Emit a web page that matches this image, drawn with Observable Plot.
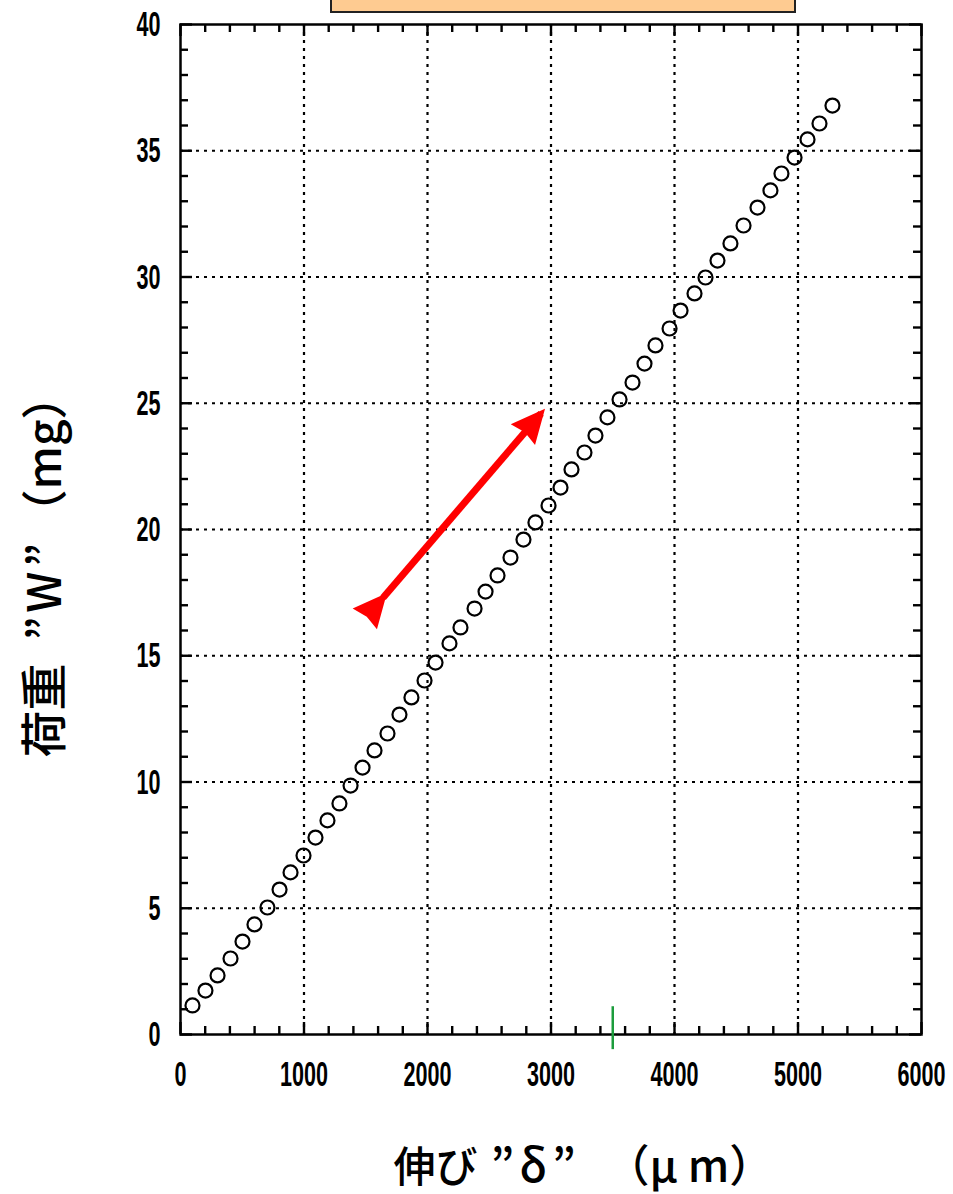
<!DOCTYPE html>
<html><head><meta charset="utf-8">
<script src="https://cdn.jsdelivr.net/npm/d3@7"></script>
<script src="https://cdn.jsdelivr.net/npm/@observablehq/plot@0.6"></script>
<style>
html,body{margin:0;padding:0;background:#fff;overflow:hidden}
#wrap{position:relative;width:953px;height:1194px}
#wrap svg{display:block}
#note{position:absolute;left:330px;top:-30px;width:462px;height:39px;background:#FECB91;border:2px solid #222;}
</style></head><body><div id="wrap"><div id="note"></div></div>
<script>
// elongation δ (μm)
const elongation = [97,202,300,405,502,599,704,802,891,996,1093,1190,1287,1377,1474,1571,1676,1773,1870,1976,
  2065,2178,2267,2381,2470,2567,2672,2777,2874,2980,3077,3166,3271,3360,3457,3555,3660,3757,3846,3960,
  4049,4162,4251,4348,4453,4559,4672,4777,4866,4972,5077,5174,5279];
// load W (mg)
const load = [1.15,1.74,2.34,3.01,3.68,4.36,5.03,5.74,6.42,7.09,7.80,8.48,9.15,9.86,10.57,11.25,11.92,12.67,13.35,14.02,
  14.73,15.49,16.12,16.87,17.54,18.18,18.89,19.60,20.28,20.95,21.66,22.38,23.05,23.72,24.44,25.15,25.82,26.57,27.29,27.96,
  28.67,29.35,29.98,30.65,31.33,32.04,32.75,33.43,34.10,34.73,35.45,36.08,36.79];
const xMajorTicks = [0,1000,2000,3000,4000,5000,6000];
const yMajorTicks = [0,5,10,15,20,25,30,35,40];
const xMinorTicks = [200,400,600,800,1200,1400,1600,1800,2200,2400,2600,2800,3200,3400,3600,3800,4200,4400,4600,4800,5200,5400,5600,5800];
const yMinorTicks = [1,2,3,4,6,7,8,9,11,12,13,14,16,17,18,19,21,22,23,24,26,27,28,29,31,32,33,34,36,37,38,39];
const arrowSegment = [{x1:1640, y1:17.3, x2:2920, y2:24.6}];
const penMark = [{x:3500, y1:1.1, y2:-0.6}];
const xTitleParts = ["伸び", "”δ”", "（μ m）"];
const yTitleParts = ["荷重", "”W”", "（mg）"];

const W = 953, H = 1194, mL = 180, mR = 32, mT = 24, mB = 160;
const innerW = W - mL - mR, innerH = H - mT - mB;
const xDomain = [0, 6000], yDomain = [0, 40];
const yPerPx = (yDomain[1] - yDomain[0]) / innerH, xPerPx = (xDomain[1] - xDomain[0]) / innerW;
const minorLen = 8, majorLen = 12;

const points = elongation.map((x, i) => ({x, y: load[i]}));
const tickFont = "'Liberation Sans', Arial, sans-serif";
const cjkFont = "'Noto Sans CJK JP', 'Noto Sans CJK SC', sans-serif";
const gridStyle = {stroke:"#000", strokeOpacity:1, strokeWidth:2.2, strokeDasharray:"3,5"};
const tk = {stroke:"#000", strokeWidth:2.4};

function inwardTicks(xs, ys, len) {
  return [
    Plot.ruleX(xs, {x: d => d, y1: yDomain[0], y2: yDomain[0] + len * yPerPx, ...tk}),
    Plot.ruleX(xs, {x: d => d, y1: yDomain[1], y2: yDomain[1] - len * yPerPx, ...tk}),
    Plot.ruleY(ys, {y: d => d, x1: xDomain[0], x2: xDomain[0] + len * xPerPx, ...tk}),
    Plot.ruleY(ys, {y: d => d, x1: xDomain[1], x2: xDomain[1] - len * xPerPx, ...tk})
  ];
}

const plot = Plot.plot({
  width: W, height: H,
  marginLeft: mL, marginRight: mR, marginTop: mT, marginBottom: mB,
  x: {domain: xDomain},
  y: {domain: yDomain},
  style: {background:"transparent", overflow:"visible", color:"#000"},
  marks: [
    Plot.gridX({ticks: xMajorTicks.slice(1,-1), ...gridStyle}),
    Plot.gridY({ticks: yMajorTicks.slice(1,-1), ...gridStyle}),
    ...inwardTicks(xMinorTicks, yMinorTicks, minorLen),
    ...inwardTicks(xMajorTicks, yMajorTicks, majorLen),
    Plot.axisX({ticks: xMajorTicks, anchor:"bottom", tickSize:0, tickPadding:26, label:null, tickFormat:"d",
      fontFamily: tickFont, fontSize:36, fontWeight:"bold", fill:"#000"}),
    Plot.axisY({ticks: yMajorTicks, anchor:"left", tickSize:0, tickPadding:20, label:null, tickFormat:"d",
      fontFamily: tickFont, fontSize:36, fontWeight:"bold", fill:"#000"}),
    Plot.text([xTitleParts.join(" ")], {text: d => d, frameAnchor:"bottom", textAnchor:"start", lineAnchor:"middle",
      dx: 393 - (mL + innerW / 2), dy: 134, fontFamily: cjkFont, fontSize:42, fontWeight:500, fill:"#000"}),
    Plot.text([yTitleParts.join(" ")], {text: d => d, frameAnchor:"left", rotate:-90, textAnchor:"start", lineAnchor:"middle",
      dx: -135, dy: 757 - (mT + innerH / 2), fontFamily: cjkFont, fontSize:47, fontWeight:500, fill:"#000"}),
    Plot.frame({stroke:"#000", strokeWidth:2.5}),
    Plot.ruleX(penMark, {x:"x", y1:"y1", y2:"y2", stroke:"#1c9c3c", strokeWidth:2.5}),
    Plot.dot(points, {x:"x", y:"y", r:7, stroke:"#000", strokeWidth:2.2, fill:"none"}),
    Plot.link(arrowSegment, {x1:"x1", y1:"y1", x2:"x2", y2:"y2", stroke:"#ff0000", strokeWidth:7,
      markerStart:"arrow", markerEnd:"arrow"})
  ]
});

const svg = d3.select(plot);
// condensed digits like the original
svg.selectAll('g[aria-label="x-axis tick label"] text, g[aria-label="y-axis tick label"] text').each(function() {
  const t = this.getAttribute("transform") || "";
  this.setAttribute("transform", t + " scale(0.6,1)");
});
// filled arrowheads
svg.selectAll("marker")
  .attr("markerUnits", "userSpaceOnUse")
  .attr("viewBox", "-32 -18 40 36")
  .attr("markerWidth", 40).attr("markerHeight", 36)
  .attr("stroke", "none")
  .selectAll("path")
  .attr("d", "M-28,-16L6,0L-28,16L-25,0Z").attr("fill", "#ff0000").attr("stroke", "none");
// spread the title pieces like the original lettering
function spreadTitle(parts, offsets, sizes, spacing) {
  const full = parts.join(" ");
  svg.selectAll("text").filter(function() { return this.textContent === full; }).each(function() {
    const el = d3.select(this);
    el.text(null);
    parts.forEach((p, i) => {
      el.append("tspan").attr("x", offsets[i]).attr("font-size", sizes[i])
        .attr("letter-spacing", spacing[i]).text(p);
    });
  });
}
spreadTitle(xTitleParts, [0, 97, 212], [42, 46, 44], [0, 5, 0]);
spreadTitle(yTitleParts, [0, 117, 222], [47, 46, 46], [0, 4, 0]);

document.getElementById("wrap").prepend(plot);
</script>
</body></html>
